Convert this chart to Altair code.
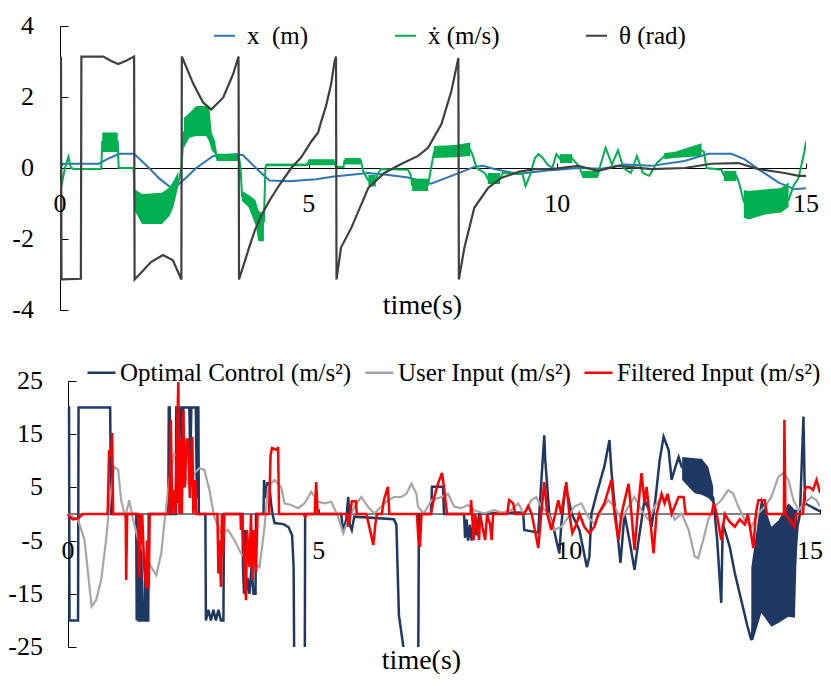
import altair as alt
import pandas as pd

F = "Liberation Serif, DejaVu Serif, serif"
BLUE = "#2E75B6"
GREEN = "#00B050"
DARK = "#404040"
NAVY = "#203864"
GRAY = "#A6A6A6"
RED = "#FF0000"

# ---------------- top panel data ----------------
top_names = ["x\u00a0 (m)", "\u1e8b (m/s)", "\u03b8 (rad)"]
top_ticks_x = [0, 5, 10, 15]
top_ticks_y = [-4, -2, 0, 2, 4]

x_t = [0.0, 0.06, 0.78, 0.95, 1.19, 1.49, 1.79, 2.0, 2.23, 2.35, 2.54, 2.74, 3.08, 3.54, 3.68, 3.94,
       4.21, 4.61, 5.15, 5.51, 6.20, 6.52, 7.0, 7.46, 7.87, 8.33, 8.51, 8.73, 9.22, 9.54, 9.88, 10.42,
       10.89, 11.35, 11.89, 12.56, 13.04, 13.50, 13.76, 14.04, 14.45, 14.77, 15.0]
x_v = [0.0, 0.12, 0.12, 0.25, 0.40, 0.40, 0.0, -0.3, -0.55, -0.5, -0.27, 0.0, 0.34, 0.39, 0.36, 0.0,
       -0.35, -0.37, -0.32, -0.24, -0.14, -0.18, -0.27, -0.44, -0.22, 0.03, 0.06, -0.03, -0.17, -0.11, -0.06, 0.0,
       -0.02, 0.1, 0.06, 0.2, 0.4, 0.4, 0.25, -0.03, -0.41, -0.6, -0.57]

xd_t = [0.00, 0.02, 0.10, 0.17, 0.22, 0.28, 0.83, 0.85, 1.16, 1.18, 1.48, 1.50, 2.05, 2.28, 2.40, 2.44,
        2.49, 2.74, 3.00, 3.05, 3.12, 3.15, 3.60, 3.63, 3.66, 3.93, 4.05, 4.10, 4.13, 4.15, 4.96, 5.00,
        5.52, 5.55, 5.70, 5.72, 6.05, 6.10, 6.20, 6.35, 6.38, 6.45, 7.00, 7.05, 7.08, 7.40, 7.45, 7.52,
        8.25, 8.30, 8.38, 8.55, 8.60, 8.85, 8.90, 9.30, 9.36, 9.45, 9.55, 9.62, 9.70, 9.80, 9.90, 9.98,
        10.05, 10.30, 10.40, 10.45, 10.50, 10.82, 10.85, 10.97, 11.10, 11.22, 11.33, 11.48, 11.60, 11.72,
        11.85, 12.00, 12.15, 12.35, 12.90, 12.95, 13.00, 13.30, 13.35, 13.60, 13.65, 13.75, 14.65, 14.75,
        14.85, 14.97, 15.00]
xd_v = [0.0, -0.55, 0.0, 0.32, 0.0, -0.03, -0.03, 0.75, 0.75, 0.0, 0.0, -0.9, -1.1, -0.7, -0.3, 0.0,
        1.0, 1.3, 1.2, 0.7, 0.55, 0.3, 0.3, 0.0, -0.8, -1.25, -1.65, -1.5, 0.0, 0.09, 0.09, 0.16,
        0.16, 0.03, 0.03, 0.2, 0.2, -0.1, -0.35, -0.35, -0.2, -0.03, -0.05, -0.2, -0.48, -0.48, -0.1, 0.45,
        0.52, 0.35, 0.0, -0.15, -0.3, -0.3, -0.14, -0.17, -0.51, -0.2, 0.28, 0.39, 0.3, 0.1, 0.0, 0.39,
        0.27, 0.27, 0.1, 0.0, -0.18, -0.18, 0.0, 0.57, 0.1, 0.5, 0.0, -0.14, 0.34, -0.14,
        -0.22, 0.14, 0.33, 0.35, 0.5, 0.45, 0.0, -0.05, -0.22, -0.22, -0.4, -0.95, -0.9, -0.5,
        -0.28, 0.48, 0.75]

# noisy envelope of the velocity trace
xdb_seg = [1, 1, 2, 2, 2, 2, 2, 2, 3, 3, 3, 3, 3, 3, 3, 3, 3, 4, 4, 4, 4, 4, 5, 5, 5, 5, 6, 6,
           7, 7, 8, 8, 9, 9, 9, 10, 10, 11, 11, 12, 12, 13, 13, 13, 14, 14, 15, 15, 15, 15, 15]
xdb_t = [0.85, 1.16, 1.50, 1.65, 2.05, 2.20, 2.28, 2.38, 2.49, 2.60, 2.74, 2.94, 3.00, 3.05, 3.12, 3.15, 3.60,
         3.66, 3.79, 3.93, 3.99, 4.10, 4.15, 4.96, 5.00, 5.52, 5.72, 6.05,
         6.20, 6.35, 7.08, 7.40, 7.52, 7.95, 8.25, 8.60, 8.85, 10.05, 10.30, 10.50, 10.82, 12.15, 12.35, 12.90,
         13.35, 13.60, 13.75, 13.85, 14.20, 14.50, 14.65]
xdb_lo = [0.45, 0.45, -1.2, -1.58, -1.58, -1.35, -1.1, -0.5, 0.56, 0.85, 0.9, 0.9, 0.75, 0.5, 0.39, 0.2, 0.2,
          -0.93, -1.1, -1.6, -2.06, -2.06, 0.05, 0.05, 0.08, 0.08, 0.1, 0.1,
          -0.5, -0.53, -0.65, -0.65, 0.28, 0.3, 0.34, -0.45, -0.45, 0.14, 0.14, -0.28, -0.28, 0.25, 0.28, 0.34,
          -0.37, -0.37, -1.4, -1.45, -1.3, -1.25, -1.1]
xdb_hi = [1.0, 1.0, -0.6, -0.73, -0.7, -0.55, -0.37, -0.1, 1.41, 1.55, 1.75, 1.75, 1.75, 1.0, 0.75, 0.4, 0.4,
          -0.65, -0.75, -0.9, -1.2, -1.3, 0.12, 0.12, 0.25, 0.25, 0.28, 0.28,
          -0.2, -0.2, -0.3, -0.3, 0.62, 0.65, 0.72, -0.14, -0.14, 0.39, 0.39, -0.08, -0.08, 0.42, 0.45, 0.7,
          -0.08, -0.08, -0.62, -0.65, -0.6, -0.56, -0.4]

th_t = [0.00, 0.01, 0.02, 0.03, 0.05, 0.42, 0.43, 0.87, 1.02, 1.17, 1.33, 1.49, 1.50, 1.63, 1.83, 2.07,
        2.27, 2.44, 2.45, 2.68, 2.88, 3.04, 3.28, 3.48, 3.59, 3.60, 3.70, 3.80, 3.92, 4.06, 4.22, 4.40,
        4.65, 4.85, 5.05, 5.19, 5.25, 5.35, 5.45, 5.52, 5.55, 5.56, 5.65, 5.86, 6.20, 6.52, 6.86, 7.20,
        7.40, 7.67, 7.87, 8.01, 8.02, 8.13, 8.33, 8.61, 8.87, 9.22, 9.54, 9.88, 10.42, 10.82, 11.22, 11.89,
        12.56, 13.10, 13.64, 14.04, 14.57, 14.85, 15.00]
th_v = [3.14, -3.14, 3.14, -3.14, -3.14, -3.12, 3.14, 3.14, 3.02, 2.93, 3.02, 3.14, -3.14, -2.95, -2.65, -2.45,
        -2.6, -3.14, 3.14, 2.37, 1.84, 1.65, 1.98, 2.64, 3.14, -3.14, -2.7, -2.25, -1.75, -1.3, -0.9, -0.5,
        0.0, 0.3, 0.74, 1.0, 1.3, 1.75, 2.35, 3.0, 3.14, -3.14, -2.24, -1.68, -0.56, -0.14, 0.11, 0.34,
        0.57, 1.24, 2.17, 3.1, -3.14, -2.25, -1.12, -0.56, -0.28, -0.11, -0.03, -0.03, 0.06, -0.08, 0.06, -0.03,
        0.0, 0.12, 0.14, -0.03, -0.14, -0.22, -0.22]

# ---------------- bottom panel data ----------------
bot_names = ["Optimal Control (m/s\u00b2)", "User Input (m/s\u00b2)", "Filtered Input (m/s\u00b2)"]
bot_ticks_x = [0, 5, 10, 15]
bot_ticks_y = [-25, -15, -5, 5, 15, 25]

oc_t = [0.00, 0.02, 0.03, 0.20, 0.21, 0.84, 0.86, 1.36, 1.37, 1.39, 1.41, 1.44, 1.46, 1.48, 1.52, 1.54,
        1.57, 1.60, 1.61, 2.00, 2.01, 2.03, 2.04, 2.15, 2.16, 2.19, 2.20, 2.22, 2.26, 2.28, 2.30, 2.42,
        2.44, 2.46, 2.55, 2.57, 2.58, 2.60, 2.61, 2.74, 2.75, 2.80, 2.85, 2.90, 2.95, 3.00, 3.05, 3.10,
        3.11, 3.48, 3.49, 3.51, 3.53, 3.55, 3.58, 3.62, 3.66, 3.70, 3.74, 3.75, 3.90, 3.91, 3.95, 3.98,
        4.02, 4.05, 4.08, 4.12, 4.30, 4.40, 4.47, 4.50, 4.52, 4.72, 4.73, 5.45, 5.49, 5.55, 5.59, 5.62,
        5.66, 5.71, 6.50, 6.55, 6.60, 6.69, 6.72, 6.98, 7.00, 7.24, 7.26, 7.48, 7.50, 7.90, 7.92, 7.95,
        7.98, 8.02, 8.05, 8.10, 8.15, 8.20, 8.60, 9.08, 9.10, 9.38, 9.42, 9.50, 9.52, 9.55, 9.60, 9.68,
        9.80, 9.84, 9.92, 9.98, 10.05, 10.20, 10.35, 10.40, 10.44, 10.55, 10.70, 10.80, 10.84, 10.92, 11.02, 11.10,
        11.20, 11.30, 11.38, 11.50, 11.58, 11.64, 11.72, 11.80, 11.88, 11.98, 12.04, 12.12, 12.18, 12.24, 12.50, 12.70,
        12.87, 12.95, 13.03, 13.06, 13.10, 13.20, 13.30, 13.43, 13.55, 13.63, 13.83, 14.03, 14.17, 14.37, 14.50, 14.55,
        14.60, 14.67, 14.70, 14.80, 14.90, 15.00]
oc_v = [20, 20, -20, -20, 20, 20, 0, 0, -20, 0, -20, -20, -5, -20, -20, -8,
        -20, -20, 0, 0, 20, 20, 0, 0, 20, 20, 2, 20, 20, 5, 20, 20,
        10, 20, 20, 3, 20, 20, 0, 0, -20, -18, -20, -18, -20, -18, -20, -20,
        0, 0, -10, -15, -3, -15, -12, -15, -10, -15, -15, 0, 0, 6.4, 3, 6,
        5, 2, 0, -1.7, -1.9, -2.5, -4, -10, -40, -40, 0, 0, -3.4, -1, 3.2, -2,
        -3, -0.5, -1, -2, -19, -25, -40, -40, 0, 0, 5.1, 5.1, 0, 0, -4.5, -1,
        -5, -2, -5, -1, -4, 0, 0.2, 0.3, -3, -3.5, 3, 14.8, 10, 6.4, 0, -2.4,
        -7.4, -2, 5.1, 3, 0, -3, -10, -8, 0, 4, 9, 13.9, 8, 0, -9.2, 0,
        -5, -10.5, -5, 2.6, 1, -2.4, 3, 10, 14.5, 12, 6.4, 9, 10.7, 8.9, 7, 6,
        3, -5, -16.7, -2, -3, -6.2, -11.1, -16.2, -21, -23.7, -8, -12, -10, -8, -9, -2.4,
        0, 18.3, 2, 1.5, 1, 0.5]

# noisy envelope of the optimal control trace
ocb_seg = [1, 1, 1, 1, 1, 2, 2, 2, 2, 2, 2, 2, 2]
ocb_t = [12.25, 12.50, 12.64, 12.77, 12.87, 13.63, 13.67, 13.83, 14.03, 14.17, 14.37, 14.50, 14.55]
ocb_lo = [6.4, 3.9, 3.6, 3.0, 2.0, -23.7, -23.7, -18.6, -21.2, -20.5, -19.3, -19.5, -2.4]
ocb_hi = [10.7, 10.5, 10.4, 8.9, 5.1, -10.0, -7.4, 3.3, -2.4, -1.2, 2.0, 0.8, 0.8]

ui_t = [0.00, 0.20, 0.33, 0.40, 0.47, 0.56, 0.66, 0.76, 0.82, 0.92, 1.00, 1.06, 1.14, 1.22, 1.30, 1.40,
        1.52, 1.66, 1.76, 1.86, 1.92, 2.02, 2.12, 2.22, 2.32, 2.42, 2.52, 2.62, 2.72, 2.82, 2.92, 3.05,
        3.19, 3.32, 3.45, 3.59, 3.72, 3.82, 3.92, 3.99, 4.12, 4.25, 4.32, 4.45, 4.59, 4.72, 4.85, 4.99,
        5.12, 5.25, 5.39, 5.49, 5.59, 5.72, 5.85, 5.98, 6.11, 6.25, 6.38, 6.51, 6.65, 6.75, 6.85, 6.95,
        6.98, 7.10, 7.25, 7.45, 7.58, 7.70, 7.84, 7.98, 8.10, 8.30, 8.50, 8.70, 8.84, 8.98, 9.10, 9.24,
        9.34, 9.44, 9.58, 9.70, 9.84, 9.98, 10.10, 10.24, 10.38, 10.50, 10.64, 10.78, 10.90, 11.04, 11.18, 11.30,
        11.44, 11.58, 11.70, 11.84, 11.98, 12.10, 12.24, 12.38, 12.50, 12.57, 12.67, 12.77, 12.90, 13.03, 13.17, 13.27,
        13.37, 13.50, 13.63, 13.77, 13.90, 14.03, 14.17, 14.27, 14.37, 14.47, 14.57, 14.69, 14.83, 14.93, 15.00]
ui_v = [0.0, -1.1, -4.9, -11.2, -17.4, -16.2, -12.4, -4.9, 1.4, 8.9, 8.3, 2.6, -0.6, 2.6, -1.1, -4.9,
        -7.4, -10, -11.5, -7.4, -1.8, 6.4, 11.4, 10.2, 8.3, 5.1, 7.7, 8.6, 8.3, 4.5, -0.6, -3.6,
        -3.0, -4.9, -7.4, -8.6, -9.3, -10, -2.4, 5.1, 6.4, 5.1, 2.0, 1.7, 1.1, 2.0, 4.2, 2.3,
        2.0, 2.3, -0.6, -3.6, -1.1, 1.4, 3.2, 1.4, 0.1, 1.4, 2.6, 3.2, 3.2, 3.8, 5.7, 3.8,
        1.4, 0.1, 2.6, 3.2, 3.8, 1.4, 1.1, 1.7, 0.7, 0.1, 0.7, 0.1, 0.7, 2.0, -0.1, 2.6,
        3.2, 1.4, 0.1, -3.0, -2.4, -0.6, 1.4, 2.0, -0.6, -1.8, 0.7, 2.6, 1.4, -1.1, 1.4, 3.2,
        0.7, -1.1, 1.4, 3.2, 2.6, -1.1, 0.1, -3.0, -8.0, -8.3, -4.9, -1.1, 1.4, 2.6, 4.5, 3.8,
        1.4, -1.1, -2.4, 0.1, 1.4, 3.2, 7.0, 7.7, 6.4, 2.6, 0.7, 2.0, 3.2, 2.6, 1.4]

fi_t = [0.00, 0.03, 0.10, 0.20, 0.30, 0.79, 0.82, 0.86, 0.88, 0.90, 1.15, 1.16, 1.18, 1.40, 1.42, 1.44,
        1.46, 1.48, 1.52, 1.56, 1.58, 1.61, 1.63, 2.02, 2.05, 2.08, 2.12, 2.14, 2.20, 2.22, 2.25, 2.27,
        2.30, 2.33, 2.37, 2.40, 2.43, 2.48, 2.50, 2.54, 2.56, 2.98, 3.00, 3.02, 3.05, 3.07, 3.09, 3.12,
        3.44, 3.45, 3.47, 3.52, 3.55, 3.57, 3.62, 3.65, 3.68, 3.70, 3.75, 3.78, 4.01, 4.04, 4.07, 4.17,
        4.19, 4.21, 4.70, 4.73, 4.76, 4.92, 4.95, 4.98, 5.57, 5.59, 5.63, 5.66, 5.74, 5.76, 5.95, 6.00,
        6.09, 6.13, 6.16, 6.26, 6.30, 6.38, 6.41, 6.96, 6.99, 7.02, 7.05, 7.24, 7.30, 7.38, 7.46, 7.50,
        7.56, 8.03, 8.04, 8.06, 8.09, 8.12, 8.16, 8.20, 8.22, 8.27, 8.32, 8.36, 8.42, 8.45, 8.48, 8.76,
        8.80, 8.88, 8.92, 9.10, 9.18, 9.25, 9.38, 9.44, 9.50, 9.56, 9.64, 9.72, 9.78, 9.84, 9.94, 10.00,
        10.06, 10.14, 10.20, 10.30, 10.40, 10.50, 10.58, 10.70, 10.84, 10.90, 10.98, 11.04, 11.18, 11.24, 11.30, 11.36,
        11.44, 11.50, 11.54, 11.60, 11.68, 11.74, 11.84, 11.90, 11.96, 12.04, 12.18, 12.28, 12.32, 12.84, 12.88, 12.94,
        13.03, 13.10, 13.20, 13.30, 13.40, 13.50, 13.56, 13.67, 13.72, 13.77, 13.90, 13.94, 14.28, 14.29, 14.31, 14.49,
        14.52, 14.66, 14.69, 14.72, 14.80, 14.86, 14.93, 15.00]
fi_v = [0, -0.5, -1.0, -0.8, 0, 0, 12, 11, 15.2, 0, 0, -12.4, 0, 0, -12, 0,
        -5, 0, -10, -14, -5, -14, 0, 0, 17.7, 0, 4.5, 0, 24.8, 0, 13.9, 0,
        19.5, 5, 14, 14, 3, 14.5, 0, 6.4, 0, 0, -11.2, -5, -13.7, 0, -8, 0,
        0, -3, 0, -10, -16.2, -3, -10, 0, -12.4, -3, -11, 0, 0, 11, 12.4, 12,
        12.6, 0, 0, -0.6, 0, 0, 6, 0, 0, -2.4, 0, 2.4, 2.4, 0, 0, -2,
        -5.8, -2, 0, 0, 2.6, 5.1, 0, 0, -4.9, -6.2, 0, 0, 3, 5.7, 7.7, 5,
        0, 0, 2.6, 0, -4.9, 0, -2.4, -4.9, 0, -2.6, -4.9, 0, -2, -4.9, 0, 0,
        2.6, 2, 0, 0, 1.5, 0, -6.4, 0, 6, 0, -3, 0, 2.6, 0, 6, 0,
        -3.6, -2, 0, -2.4, -3.6, -2.4, 0, 2, 6.4, 0, -4.9, 0, 5.7, 0, -6.8, 0,
        7.7, 2, 5.1, 0, -7.4, 0, 3.8, 2, 3.8, 0, 3.2, 3.2, 0, 0, 2, 0,
        -4.9, 0, -1.5, -2.4, -1, -2, 0, -6.4, 0, 2.6, 2.6, 0, 0, 17.7, 0, -2.4,
        0, 0, 4, 5.1, 5, 4.5, 6.4, 4]

zero_line = {"t0": [0], "t1": [15], "v": [0]}


def line_df(ts, vs, name):
    return pd.DataFrame({"t": ts, "v": vs, "series": name, "i": list(range(len(ts)))})


def band_df(seg, ts, lo, hi):
    return pd.DataFrame({"seg": seg, "t": ts, "lo": lo, "hi": hi})


def ylab_df(vals):
    return pd.DataFrame({"t": [0] * len(vals), "v": vals, "lab": [str(v) for v in vals]})


def xlab_df(vals):
    return pd.DataFrame({"t": vals, "v": [0] * len(vals), "lab": [str(v) for v in vals]})


NUM = 26  # tick label size


def axis_spec(orient, offset, values, tick, domain=True, title=None, tx=0, ty=0):
    kw = dict(orient=orient, offset=offset, values=values, tickSize=tick, tickColor="black",
              domain=domain, labels=False, grid=False, title=title)
    if domain:
        kw.update(domainColor="black", domainWidth=1)
    if title:
        kw.update(titleFont=F, titleFontSize=28, titleFontWeight="normal", titleColor="black",
                  titleX=tx, titleY=ty, titleAlign="center", titleBaseline="alphabetic", titleAngle=0)
    return alt.Axis(**kw)


# ---------------- top panel ----------------
TW, TH = 746, 284
xs_top = alt.Scale(domain=[0, 15], nice=False, zero=False)
ys_top = alt.Scale(domain=[-4, 4], nice=False, zero=False)

top_x_axis = axis_spec("top", -TH / 2, top_ticks_x, 5, True, "time(s)", 362, 145)
top_y_axis = axis_spec("right", -TW, top_ticks_y, 8)

top_legend = alt.Legend(orient="none", legendX=152, legendY=-3, direction="horizontal", title=None,
                        symbolType="stroke", symbolSize=441, symbolStrokeWidth=2, labelFont=F,
                        labelFontSize=25, labelColor="black", labelOffset=10, columnPadding=82,
                        padding=0, labelLimit=400)
top_color = alt.Color("series:N", scale=alt.Scale(domain=top_names, range=[BLUE, GREEN, DARK]),
                      legend=top_legend)

TX = alt.X("t:Q", scale=xs_top, axis=top_x_axis)
TY = alt.Y("v:Q", scale=ys_top, axis=top_y_axis)


def top_line(ts, vs, name, w=2):
    return alt.Chart(line_df(ts, vs, name)).mark_line(strokeWidth=w, clip=True).encode(
        x=TX, y=TY, color=top_color, order="i:Q")


top_band = alt.Chart(band_df(xdb_seg, xdb_t, xdb_lo, xdb_hi)).mark_area(
    color=GREEN, opacity=1, clip=True).encode(
    x=TX, y=alt.Y("lo:Q", scale=ys_top, axis=top_y_axis), y2="hi:Q", detail="seg:N")

top_ylabels = alt.Chart(ylab_df(top_ticks_y)).mark_text(
    align="right", baseline="middle", dx=-26, font=F, fontSize=NUM, color="black").encode(
    x=TX, y=TY, text="lab:N")
top_xlabels = alt.Chart(xlab_df(top_ticks_x)).mark_text(
    align="center", baseline="top", dy=23, font=F, fontSize=NUM, color="black").encode(
    x=TX, y=TY, text="lab:N")

top = alt.layer(
    top_line(x_t, x_v, top_names[0]),
    top_band,
    top_line(xd_t, xd_v, top_names[1]),
    top_line(th_t, th_v, top_names[2], 2.2),
    top_ylabels,
    top_xlabels,
).properties(width=TW, height=TH)

# ---------------- bottom panel ----------------
BW, BH = 760, 266
x0 = -0.16
xs_bot = alt.Scale(domain=[x0, 15], nice=False, zero=False)
ys_bot = alt.Scale(domain=[-25, 25], nice=False, zero=False)
y_axis_pos = BW * (0 - x0) / (15 - x0)

bot_x_axis = axis_spec("top", -BH / 2, bot_ticks_x, 5, False, "time(s)", 361, 154)
bot_y_axis = axis_spec("right", -(BW - y_axis_pos), bot_ticks_y, 8)

bot_legend = alt.Legend(orient="none", legendX=26, legendY=-24, direction="horizontal", title=None,
                        symbolType="stroke", symbolSize=784, symbolStrokeWidth=2.5, labelFont=F,
                        labelFontSize=25, labelColor="black", labelOffset=3, columnPadding=8,
                        padding=0, labelLimit=400)
bot_color = alt.Color("series:N", scale=alt.Scale(domain=bot_names, range=[NAVY, GRAY, RED]),
                      legend=bot_legend)

BX = alt.X("t:Q", scale=xs_bot, axis=bot_x_axis)
BY = alt.Y("v:Q", scale=ys_bot, axis=bot_y_axis)


def bot_line(ts, vs, name, w=2.5):
    return alt.Chart(line_df(ts, vs, name)).mark_line(strokeWidth=w, clip=True).encode(
        x=BX, y=BY, color=bot_color, order="i:Q")


zero_rule = alt.Chart(pd.DataFrame(zero_line)).mark_rule(color="black", strokeWidth=1).encode(
    x=alt.X("t0:Q", scale=xs_bot, axis=bot_x_axis), x2="t1:Q",
    y=alt.Y("v:Q", scale=ys_bot, axis=bot_y_axis))

bot_band = alt.Chart(band_df(ocb_seg, ocb_t, ocb_lo, ocb_hi)).mark_area(
    color=NAVY, opacity=1, clip=True).encode(
    x=BX, y=alt.Y("lo:Q", scale=ys_bot, axis=bot_y_axis), y2="hi:Q", detail="seg:N")

bot_ylabels = alt.Chart(ylab_df(bot_ticks_y)).mark_text(
    align="right", baseline="middle", dx=-25, font=F, fontSize=NUM, color="black").encode(
    x=BX, y=BY, text="lab:N")
bot_xlabels = alt.Chart(xlab_df(bot_ticks_x[:-1])).mark_text(
    align="center", baseline="top", dy=24, font=F, fontSize=NUM, color="black").encode(
    x=BX, y=BY, text="lab:N")
bot_xlabel_last = alt.Chart(xlab_df(bot_ticks_x[-1:])).mark_text(
    align="right", baseline="top", dy=24, dx=3, font=F, fontSize=NUM, color="black").encode(
    x=BX, y=BY, text="lab:N")

bottom = alt.layer(
    zero_rule,
    bot_band,
    bot_line(oc_t, oc_v, bot_names[0], 2.5),
    bot_line(ui_t, ui_v, bot_names[1], 2.2),
    bot_line(fi_t, fi_v, bot_names[2], 2.5),
    bot_ylabels,
    bot_xlabels,
    bot_xlabel_last,
).properties(width=BW, height=BH)

chart = alt.vconcat(top, bottom, spacing=34).resolve_scale(color="independent").resolve_legend(
    color="independent").properties(
    padding={"left": 0, "top": 5, "right": 0, "bottom": 0}
).configure(font=F).configure_legend(labelFont=F).configure_view(stroke=None)

chart.save("out.html", embed_options={"renderer": "svg", "actions": False})
